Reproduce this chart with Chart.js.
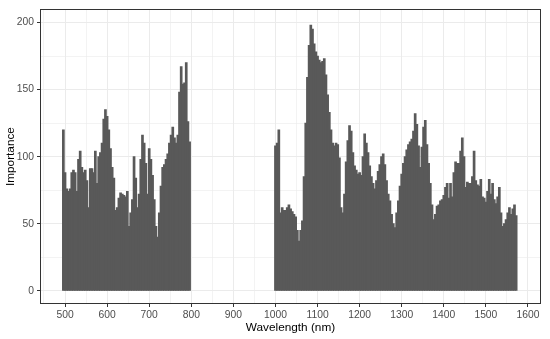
<!DOCTYPE html>
<html><head><meta charset="utf-8">
<script src="https://cdn.jsdelivr.net/npm/chart.js"></script>
<style>html,body{margin:0;padding:0;background:#fff}canvas{display:block}</style>
</head><body>
<canvas id="c" width="550" height="339"></canvas>
<script>
// Visible / short-wave region (nm)
const wavelengthsVis = [496,500,504,508,512,516,520,524,528,532,536,540,544,548,552,556,560,564,568,572,
  576,580,584,588,592,596,600,604,608,612,616,620,624,628,632,636,640,644,648,652,
  656,660,664,668,672,676,680,684,688,692,696,700,704,708,712,716,720,724,728,732,
  736,740,744,748,752,756,760,764,768,772,776,780,784,788,792,796];
const importanceVis = [120,88,76,74,76,88,90,88,74,98,
  104,92,88,90,82,62,91,91,88,104,
  80,100,103,110,128,135,130,120,106,92,
  84,60,62,69,73,72,71,70,74,48,
  58,68,100,84,62,72,98,116,110,95,
  72,106,98,86,68,48,40,58,78,92,
  94,98,102,110,116,122,114,110,116,148,
  167,154,155,170,126,111];
// Near-infrared region (nm)
const wavelengthsNir = [1000,1004,1008,1012,1016,1020,1024,1028,1032,1036,
  1040,1044,1048,1052,1056,1060,1064,1068,1072,1076,
  1080,1084,1088,1092,1096,1100,1104,1108,1112,1116,
  1120,1124,1128,1132,1136,1140,1144,1148,1152,1156,
  1160,1164,1168,1172,1176,1180,1184,1188,1192,1196,
  1200,1204,1208,1212,1216,1220,1224,1228,1232,1236,
  1240,1244,1248,1252,1256,1260,1264,1268,1272,1276,
  1280,1284,1288,1292,1296,1300,1304,1308,1312,1316,
  1320,1324,1328,1332,1336,1340,1344,1348,1352,1356,
  1360,1364,1368,1372,1376,1380,1384,1388,1392,1396,
  1400,1404,1408,1412,1416,1420,1424,1428,1432,1436,
  1440,1444,1448,1452,1456,1460,1464,1468,1472,1476,
  1480,1484,1488,1492,1496,1500,1504,1508,1512,1516,
  1520,1524,1528,1532,1536,1540,1544,1548,1552,1556,
  1560,1564,1568,1572];
const importanceNir = [108,110,120,58,62,60,60,62,64,61,
  59,57,55,45,37,45,52,85,125,159,
  183,198,195,184,178,175,172,170,171,173,
  161,146,133,120,110,108,110,109,99,62,
  58,72,96,112,123,119,103,93,90,87,
  88,86,100,117,110,103,93,85,80,76,
  82,89,94,100,102,94,82,72,67,57,
  50,47,58,67,78,87,95,100,105,109,
  111,113,119,132,124,108,92,107,122,127,
  109,95,80,64,53,57,63,64,67,68,
  71,77,80,69,80,70,88,96,95,95,
  104,114,100,77,81,80,80,85,104,82,
  79,78,83,70,69,66,74,83,72,80,
  68,65,70,77,58,48,50,53,58,62,
  57,61,64,56];
const xTickLabels = [500,600,700,800,900,1000,1100,1200,1300,1400,1500,1600];
const xMinorBreaks = [450,550,650,750,850,950,1050,1150,1250,1350,1450,1550];
const yTickLabels = [0,50,100,150,200];
const yMinorBreaks = [25,75,125,175];

const FONT = '"Liberation Sans", Arial, Helvetica, sans-serif';

const points = [];
wavelengthsVis.forEach((w, i) => points.push({x: w, y: importanceVis[i]}));
wavelengthsNir.forEach((w, i) => points.push({x: w, y: importanceNir[i]}));

function buildTicks(major, minor) {
  return major.map(v => ({value: v, minor: false}))
    .concat(minor.map(v => ({value: v, minor: true})))
    .sort((a, b) => a.value - b.value);
}

const panelBorder = {
  id: 'panelBorder',
  afterDraw(chart) {
    const {ctx, chartArea: a} = chart;
    ctx.save();
    ctx.strokeStyle = '#333333';
    ctx.lineWidth = 1;
    ctx.strokeRect(Math.round(a.left) + 0.5, Math.round(a.top) + 0.5,
      Math.round(a.right - a.left) - 1, Math.round(a.bottom - a.top) - 1);
    ctx.restore();
  }
};

const gridOpts = {
  color: '#EBEBEB',
  offset: false,
  lineWidth: c => (c.tick && c.tick.minor) ? 0.6 : 1,
  tickLength: 3,
  tickWidth: 1,
  tickColor: c => (c.tick && c.tick.minor) ? 'rgba(0,0,0,0)' : '#333333'
};

new Chart(document.getElementById('c'), {
  type: 'bar',
  data: {
    datasets: [{
      data: points,
      backgroundColor: '#595959',
      borderWidth: 0,
      barPercentage: 1,
      categoryPercentage: 1,
      inflateAmount: 0.5
    }]
  },
  options: {
    responsive: false,
    animation: false,
    devicePixelRatio: 1,
    layout: {padding: {top: 7, right: 9, left: 0, bottom: 0}},
    plugins: {legend: {display: false}, tooltip: {enabled: false}},
    scales: {
      x: {
        type: 'linear',
        offset: false,
        min: 440.5,
        max: 1631,
        afterBuildTicks: s => { s.ticks = buildTicks(xTickLabels, xMinorBreaks); },
        afterFit: s => { s.height = 35; },
        ticks: {
          autoSkip: false, maxRotation: 0, minRotation: 0, padding: 1.5,
          color: '#4D4D4D', font: {family: FONT, size: 10.3},
          callback: (v, i, t) => t[i] && t[i].minor ? '' : String(v)
        },
        grid: gridOpts,
        border: {display: false},
        title: {display: true, text: 'Wavelength (nm)', color: '#000000',
          font: {family: FONT, size: 11.8}, padding: {top: 0, bottom: 4}}
      },
      y: {
        type: 'linear',
        min: -9.8,
        max: 210,
        afterBuildTicks: s => { s.ticks = buildTicks(yTickLabels, yMinorBreaks); },
        afterFit: s => { s.width = 40; },
        ticks: {
          autoSkip: false, padding: 3,
          color: '#4D4D4D', font: {family: FONT, size: 10.3},
          callback: (v, i, t) => t[i] && t[i].minor ? '' : String(v)
        },
        grid: gridOpts,
        border: {display: false},
        title: {display: true, text: 'Importance', color: '#000000',
          font: {family: FONT, size: 11.8}, padding: {top: 4, bottom: 0}}
      }
    }
  },
  plugins: [panelBorder]
});
</script>
</body></html>
